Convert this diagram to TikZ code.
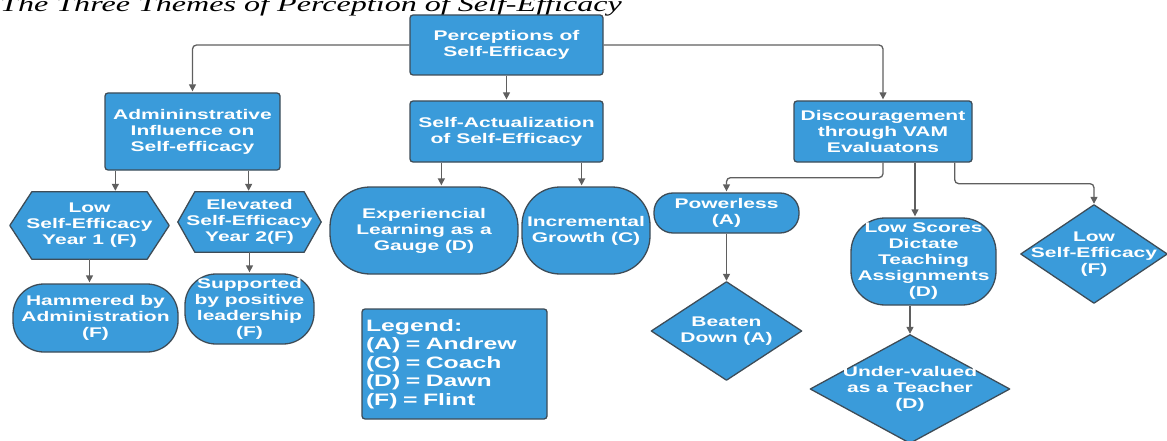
\documentclass[tikz,border=0pt]{standalone}
\usepackage{fontspec}
\usepackage{xcolor}
\usetikzlibrary{arrows.meta, backgrounds, calc}
\newfontfamily\boxfont{Liberation Sans}[FakeStretch=1.5]
\newfontfamily\headfont{Liberation Serif}[FakeStretch=1.5]
\definecolor{boxblue}{HTML}{3A9BDA}
\definecolor{edgegray}{HTML}{3E4C57}
\definecolor{wiregray}{HTML}{5F5F5F}
\tikzset{
  blocktext/.style={text=white, align=center, inner sep=0pt,
    font=\boxfont\bfseries\fontsize{14}{16}\selectfont},
  squarebox/.style={blocktext, rectangle, fill=boxblue, draw=edgegray,
    line width=1.3pt, rounded corners=3pt},
  roundbox/.style={blocktext, rectangle, fill=boxblue, draw=edgegray,
    line width=1.3pt, rounded corners=#1},
  flatnode/.style={blocktext, rectangle},
  outline/.style={fill=boxblue, draw=edgegray, line width=1.3pt, line join=round},
  wire/.style={draw=wiregray, line width=1.3pt, rounded corners=4pt,
    -{Triangle[length=7pt, width=7pt]}, shorten >=1pt},
}

\begin{document}
\begin{tikzpicture}[x=1pt, y=-1pt]
    \useasboundingbox (0,0) rectangle (1167,441);

    % --- Title (cut at the top) ---
    \node[anchor=base west, inner sep=0pt, font=\headfont\itshape\fontsize{21.4}{24}\selectfont]
        (title) at (0,12) {The Three Themes of Perception of Self-Efficacy};

    % --- Top level ---
    \node[squarebox, minimum width=193, minimum height=60] (percep) at (506.5,45)
        {Perceptions of\\Self-Efficacy};

    % --- Three themes ---
    \node[squarebox, minimum width=175, minimum height=77] (admin) at (192.5,131.5)
        {Admininstrative\\Influence on\\Self-efficacy};
    \node[squarebox, minimum width=193, minimum height=61] (selfact) at (506.5,131.5)
        {Self-Actualization\\of Self-Efficacy};
    \node[squarebox, minimum width=178, minimum height=61] (discour) at (883,131.5)
        {Discouragement\\through VAM\\Evaluatons};

    % --- Administrative branch ---
    \node[flatnode, minimum width=159, minimum height=67] (low) at (89.5,225.5)
        {Low\\Self-Efficacy\\Year 1 (F)};
    \node[flatnode, minimum width=143, minimum height=60] (elev) at (249.5,222)
        {Elevated\\Self-Efficacy\\Year 2(F)};
    \node[roundbox=31pt, minimum width=165, minimum height=68] (hammer) at (95.5,318)
        {Hammered by\\Administration\\(F)};
    \node[roundbox=31pt, minimum width=129, minimum height=70] (support) at (249.5,309)
        {Supported\\by positive\\leadership\\(F)};

    % --- Self-actualization branch ---
    \node[roundbox=40pt, minimum width=188, minimum height=87] (exper) at (424,230.5)
        {Experiencial\\Learning as a\\Gauge (D)};
    \node[roundbox=38pt, minimum width=128, minimum height=87] (increm) at (586,230.5)
        {Incremental\\Growth (C)};

    % --- Legend ---
    \node[squarebox, minimum width=185, minimum height=110, text width=177, align=left,
        font=\boxfont\bfseries\fontsize{16.5}{18.5}\selectfont] (legend) at (454.5,364)
        {Legend:\\(A) = Andrew\\(C) = Coach\\(D) = Dawn\\(F) = Flint};

    % --- Discouragement branch ---
    \node[roundbox=19pt, minimum width=145, minimum height=40] (power) at (726.5,213)
        {Powerless\\(A)};
    \node[flatnode, minimum width=150, minimum height=98] (beaten) at (726.5,331)
        {Beaten\\Down (A)};
    \node[roundbox=34pt, minimum width=145, minimum height=87] (lowscore) at (923.5,261.5)
        {Low Scores\\Dictate\\Teaching\\Assignments\\(D)};
    \node[flatnode, minimum width=199, minimum height=108] (underval) at (910,389)
        {Under-valued\\as a Teacher\\(D)};
    \node[flatnode, minimum width=146, minimum height=98] (lowse) at (1094,254)
        {Low\\Self-Efficacy\\(F)};

    % --- Hexagon and diamond outlines ---
    \begin{scope}[on background layer]
        \filldraw[outline] (low.west) -- ([xshift=22pt]low.north west) -- ([xshift=-22pt]low.north east)
            -- (low.east) -- ([xshift=-22pt]low.south east) -- ([xshift=22pt]low.south west) -- cycle;
        \filldraw[outline] (elev.west) -- ([xshift=17pt]elev.north west) -- ([xshift=-17pt]elev.north east)
            -- (elev.east) -- ([xshift=-17pt]elev.south east) -- ([xshift=17pt]elev.south west) -- cycle;
        \foreach \d in {beaten, underval, lowse}
            \filldraw[outline] (\d.north) -- (\d.east) -- (\d.south) -- (\d.west) -- cycle;
    \end{scope}

    % --- Connectors ---
    \draw[wire] (percep.west) -| (admin.north);
    \draw[wire] (percep.east) -| (discour.north);
    \draw[wire] (percep.south) -- (selfact.north);

    \draw[wire] ([xshift=11pt]admin.south west) -- ([xshift=11pt]admin.south west |- low.north);
    \draw[wire] ([xshift=-32pt]admin.south east) -- ([xshift=-32pt]admin.south east |- elev.north);
    \draw[wire] (low.south) -- (low.south |- hammer.north);
    \draw[wire] (elev.south) -- (elev.south |- support.north);

    \draw[wire] ([xshift=32pt]selfact.south west) -- ([xshift=32pt]selfact.south west |- exper.north);
    \draw[wire] ([xshift=-22pt]selfact.south east) -- ([xshift=-22pt]selfact.south east |- increm.north);

    \draw[wire] (discour.south) -- ++(0,15) -| (power.north);
    \draw[wire] ([xshift=32pt]discour.south) -- ([xshift=32pt]discour.south |- lowscore.north);
    \draw[wire] ([xshift=-18pt]discour.south east) -- ++(0,21) -| (lowse.north);
    \draw[wire] (power.south) -- (beaten.north);
    \draw[wire] (underval.north |- lowscore.south) -- (underval.north);

\end{tikzpicture}
\end{document}
